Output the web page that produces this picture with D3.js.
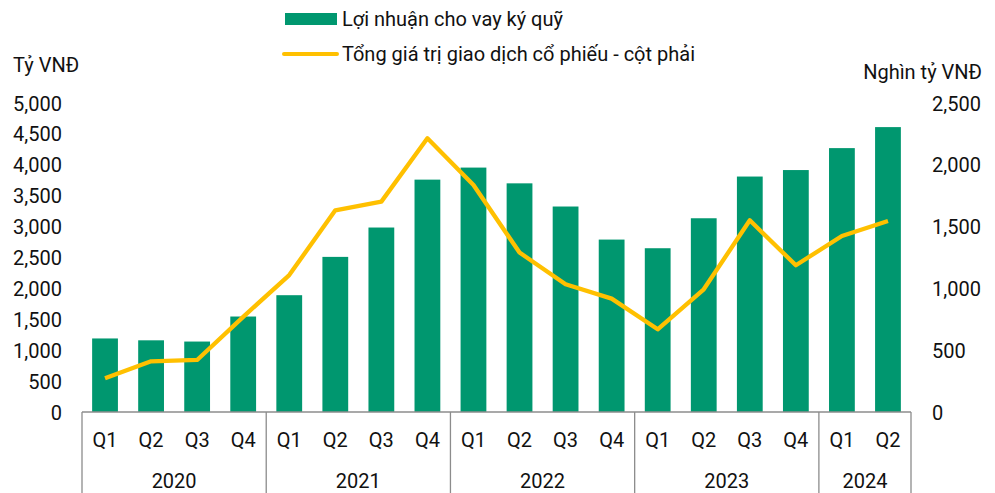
<!DOCTYPE html>
<html>
<head>
<meta charset="utf-8">
<script src="https://cdn.jsdelivr.net/npm/d3@7"></script>
<style>
  body { margin: 0; background: #fff; }
  svg text { font-family: Roboto, "Liberation Sans", sans-serif; fill: #111; }
</style>
</head>
<body>
<div id="chart"></div>
<script>
const years = ["2020", "2021", "2022", "2023", "2024"];
const quarters = [
  "Q1", "Q2", "Q3", "Q4", "Q1", "Q2", "Q3", "Q4", "Q1", "Q2", "Q3", "Q4",
  "Q1", "Q2", "Q3", "Q4", "Q1", "Q2",
];
const yearOf = [
  "2020", "2020", "2020", "2020", "2021", "2021", "2021", "2021",
  "2022", "2022", "2022", "2022", "2023", "2023", "2023", "2023", "2024", "2024",
];
// Lợi nhuận cho vay ký quỹ (tỷ VNĐ)
const marginProfit = [
  1190, 1160, 1140, 1545, 1890, 2510, 2985, 3760, 3955, 3700, 3325, 2790,
  2650, 3135, 3810, 3915, 4270, 4610,
];
// Tổng giá trị giao dịch cổ phiếu (nghìn tỷ VNĐ)
const tradeValue = [
  273, 410, 421, 770, 1108, 1632, 1702, 2214, 1837, 1290, 1033, 917,
  669, 993, 1551, 1187, 1424, 1545,
];
const leftTicks = [0, 500, 1000, 1500, 2000, 2500, 3000, 3500, 4000, 4500, 5000];
const rightTicks = [0, 500, 1000, 1500, 2000, 2500];

const width = 995;
const height = 493;
const margin = { left: 82, right: 84, top: 103, bottom: 81 };
const green = "#00976F";
const yellow = "#FFC000";
const axisGray = "#8c8c8c";
const fs = 20;

const svg = d3
  .select("#chart")
  .append("svg")
  .attr("width", width)
  .attr("height", height);

const idx = quarters.map((_, i) => i);

const x = d3
  .scaleBand()
  .domain(idx)
  .range([margin.left, width - margin.right])
  .paddingInner(0.44)
  .paddingOuter(0.22);

const yLeft = d3.scaleLinear().domain([0, 5000]).range([height - margin.bottom, margin.top]);
const yRight = d3.scaleLinear().domain([0, 2500]).range([height - margin.bottom, margin.top]);

// bars
svg
  .append("g")
  .selectAll("rect")
  .data(marginProfit)
  .join("rect")
  .attr("x", (d, i) => x(i))
  .attr("y", (d) => yLeft(d))
  .attr("width", x.bandwidth())
  .attr("height", (d) => yLeft(0) - yLeft(d))
  .attr("fill", green);

// line on right axis
const line = d3
  .line()
  .x((d, i) => x(i) + x.bandwidth() / 2)
  .y((d) => yRight(d));

svg
  .append("path")
  .datum(tradeValue)
  .attr("d", line)
  .attr("fill", "none")
  .attr("stroke", yellow)
  .attr("stroke-width", 4.3)
  .attr("stroke-linejoin", "round");

// left axis
const leftAxis = svg
  .append("g")
  .attr("transform", `translate(${margin.left - 20},0)`)
  .call(d3.axisLeft(yLeft).tickValues(leftTicks).tickFormat(d3.format(",")).tickSize(0).tickPadding(0));
leftAxis.select(".domain").remove();
leftAxis.selectAll("text").attr("font-size", fs).attr("font-family", null).attr("dy", "0.35em");

// right axis
const rightAxis = svg
  .append("g")
  .attr("transform", `translate(${width - margin.right + 21},0)`)
  .call(d3.axisRight(yRight).tickValues(rightTicks).tickFormat(d3.format(",")).tickSize(0).tickPadding(0));
rightAxis.select(".domain").remove();
rightAxis.selectAll("text").attr("font-size", fs).attr("font-family", null).attr("dy", "0.35em");

// axis titles
svg.append("text").attr("x", 13).attr("y", 72).attr("font-size", fs).text("Tỷ VNĐ");
svg
  .append("text")
  .attr("x", 982)
  .attr("y", 79)
  .attr("text-anchor", "end")
  .attr("font-size", fs)
  .text("Nghìn tỷ VNĐ");

// category axis: box lines
const baseY = yLeft(0);
const xl = margin.left;
const xr = width - margin.right;
const axisG = svg.append("g").attr("stroke", axisGray).attr("stroke-width", 1.3);
axisG.append("line").attr("x1", xl).attr("x2", xr).attr("y1", baseY).attr("y2", baseY);

const outer = x(0) - xl;
const boundaries = [0];
years.forEach((yr) => {
  boundaries.push(boundaries[boundaries.length - 1] + yearOf.filter((v) => v === yr).length);
});
const boundX = (k) => (k === 0 ? xl : k === quarters.length ? xr : x(k) - outer);

axisG
  .selectAll("line.sep")
  .data(boundaries)
  .join("line")
  .attr("class", "sep")
  .attr("x1", (k) => boundX(k))
  .attr("x2", (k) => boundX(k))
  .attr("y1", baseY)
  .attr("y2", height);

svg
  .append("g")
  .selectAll("text")
  .data(quarters)
  .join("text")
  .attr("x", (d, i) => x(i) + x.bandwidth() / 2)
  .attr("y", 447)
  .attr("text-anchor", "middle")
  .attr("font-size", fs)
  .text((d) => d);

svg
  .append("g")
  .selectAll("text")
  .data(years)
  .join("text")
  .attr("x", (d, j) => (boundX(boundaries[j]) + boundX(boundaries[j + 1])) / 2)
  .attr("y", 488)
  .attr("text-anchor", "middle")
  .attr("font-size", fs)
  .text((d) => d);

// legend
const legend = svg.append("g");
legend.append("rect").attr("x", 285).attr("y", 13).attr("width", 52).attr("height", 12).attr("fill", green);
legend.append("text").attr("x", 342).attr("y", 26).attr("font-size", fs).text("Lợi nhuận cho vay ký quỹ");
legend
  .append("line")
  .attr("x1", 284)
  .attr("x2", 337)
  .attr("y1", 54)
  .attr("y2", 54)
  .attr("stroke", yellow)
  .attr("stroke-width", 4)
  .attr("stroke-linecap", "round");
legend
  .append("text")
  .attr("x", 342)
  .attr("y", 61)
  .attr("font-size", fs)
  .text("Tổng giá trị giao dịch cổ phiếu - cột phải");
</script>
</body>
</html>
